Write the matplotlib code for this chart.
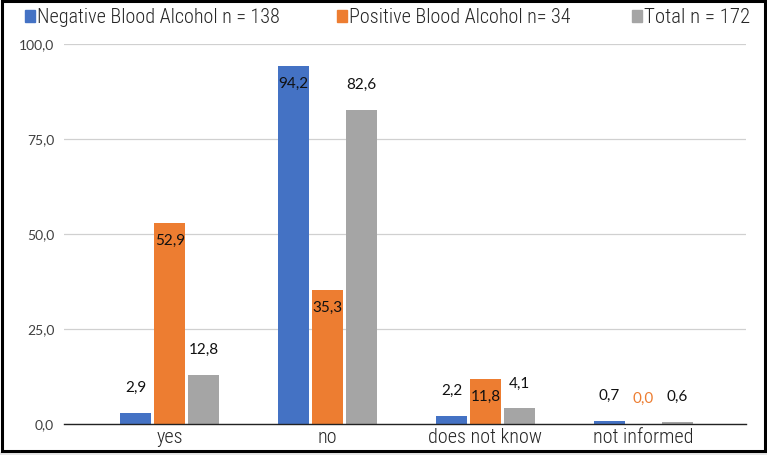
import numpy as np
import matplotlib
matplotlib.use("Agg")
import matplotlib.pyplot as plt
from matplotlib.patches import Patch, Rectangle

categories = ["yes", "no", "does not know", "not informed"]
series_names = ["Negative Blood Alcohol n = 138", "Positive Blood Alcohol n= 34", "Total n = 172"]
negative = [2.9, 94.2, 2.2, 0.7]
positive = [52.9, 35.3, 11.8, 0.0]
total = [12.8, 82.6, 4.1, 0.6]
yticks = [0, 25, 50, 75, 100]

colors = ["#4472C4", "#ED7D31", "#A5A5A5"]
narrow = ["Roboto Condensed", "DejaVu Sans"]
numfont = ["Lato", "DejaVu Sans"]

W, H = 767, 455
fig = plt.figure(figsize=(W / 100, H / 100), dpi=100)
ax = fig.add_axes([0.0834, 0.0681, 0.8892, 0.8352])

x = np.arange(len(categories))
w = 0.196
step = 0.215
values = [negative, positive, total]
# which labels sit inside the bar top (as in the original)
inside = [[False, True, False, False],
          [True, True, True, False],
          [False, False, False, False]]

for i, (vals, c) in enumerate(zip(values, colors)):
    pos = x + (i - 1) * step
    ax.bar(pos, vals, width=w, color=c, zorder=3)
    for j, (p, v) in enumerate(zip(pos, vals)):
        lab = f"{v:.1f}".replace(".", ",")
        tcol = "#ED7D31" if (v == 0 and i == 1) else "#111111"
        dy = -13 if inside[i][j] else 18
        ax.annotate(lab, (p, v), xytext=(0, dy), textcoords="offset points",
                    ha="center", va="center", fontsize=11, family=numfont, color=tcol, zorder=4)

ax.set_xlim(-0.67, 3.65)
ax.set_ylim(0, 100)
ax.set_yticks(yticks)
ax.set_yticklabels([f"{t:.1f}".replace(".", ",") for t in yticks], fontsize=10,
                   family=numfont, color="#404040")
ax.set_xticks(x)
ax.set_xticklabels(categories, fontsize=14.5, family=narrow, fontweight="light", color="#262626")
ax.tick_params(axis="both", length=0)
ax.tick_params(axis="y", pad=7)
ax.tick_params(axis="x", pad=3)
ax.grid(axis="y", color="#D0D0D0", linewidth=0.9, zorder=0)
for s in ["top", "right", "left"]:
    ax.spines[s].set_visible(False)
ax.spines["bottom"].set_color("#222222")
ax.spines["bottom"].set_linewidth(1.0)
ax.spines["bottom"].set_zorder(5)

# legend entries are not evenly spaced in the original, so one legend per series
legend_x = [25 / W, 337 / W, 632 / W]
legend_size = [14.5, 14.5, 15]
for name, c, lx, fs in zip(series_names, colors, legend_x, legend_size):
    fig.legend([Patch(color=c)], [name], loc="upper left", bbox_to_anchor=(lx, 0.982),
               borderaxespad=0, borderpad=0, frameon=False, handlelength=7.2 / fs,
               handleheight=7.2 / fs, handletextpad=1.3 / fs,
               prop={"family": narrow, "size": fs, "weight": "light"}, labelcolor="#262626")

# black frame around the chart, light strip underneath
fig.patches.append(Rectangle((0, 0), 1, 3 / H, color="#E6E6E6", transform=fig.transFigure, figure=fig))
fig.patches.append(Rectangle((1.5 / W, (H - 451) / H), 763.5 / W, 450 / H, fill=False,
                             edgecolor="black", linewidth=2.2, transform=fig.transFigure, figure=fig))

fig.savefig("out.png", dpi=100)
